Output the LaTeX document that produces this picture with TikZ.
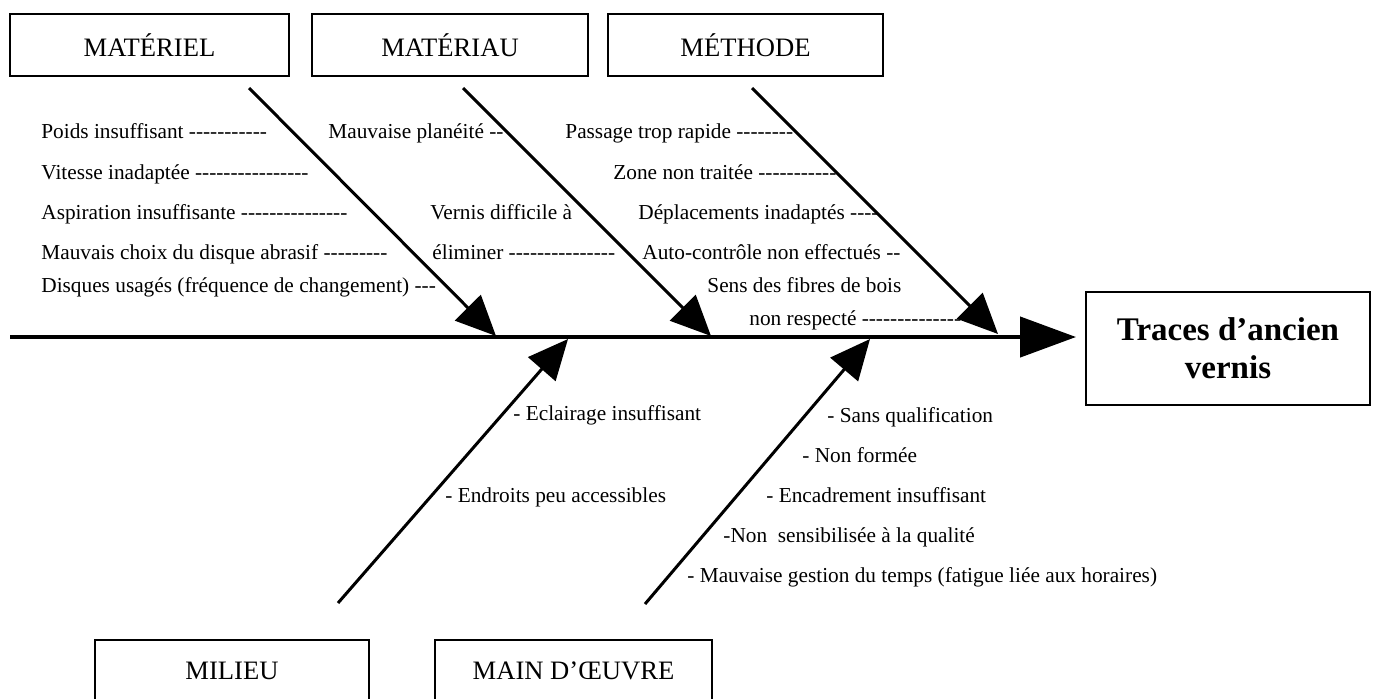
\documentclass[tikz,border=0pt]{standalone}
\usepackage{fontspec}
\setmainfont{Liberation Serif}[Ligatures=TeXOff]
\usetikzlibrary{arrows.meta}
\begin{document}
\begin{tikzpicture}[x=0.5pt,y=-0.5pt,
  catbox/.style={draw, line width=0.9pt, inner sep=0pt, minimum height=31pt,
    font=\fontsize{13.3}{16}\selectfont},
  cause/.style={anchor=base west, inner sep=0pt, font=\fontsize{10.65}{12}\selectfont},
  bone/.style={line width=1.5pt, -{Triangle[length=20pt,width=18pt]}},
  spine/.style={line width=2.2pt, -{Triangle[length=28pt,width=20pt]}}]
\clip (0,0) rectangle (1374,698);
\fill[white] (0,0) rectangle (1374,698);

% category boxes
\node[catbox, minimum width=139.5pt] (materiel) at (149.5,45) {MATÉRIEL};
\node[catbox, minimum width=138pt] (materiau) at (450,45) {MATÉRIAU};
\node[catbox, minimum width=137.5pt] (methode) at (745.5,45) {MÉTHODE};
\node[catbox, minimum width=137pt] (milieu) at (232,671) {MILIEU};
\node[catbox, minimum width=138.5pt] (mainoeuvre) at (573.5,671) {MAIN D’ŒUVRE};
\node[draw, line width=0.9pt, minimum width=142pt, minimum height=56.5pt, align=center,
  font=\bfseries\fontsize{16.5}{19}\selectfont] (effet) at (1228,348.5) {Traces d’ancien\\vernis};

% bone coordinates
\coordinate (b1s) at (249,88);  \coordinate (b1e) at (496,336);
\coordinate (b2s) at (463,88);  \coordinate (b2e) at (711,336);
\coordinate (b3s) at (752,88);  \coordinate (b3e) at (998,334);
\coordinate (b4s) at (338,603); \coordinate (b4e) at (568,339);
\coordinate (b5s) at (645,604); \coordinate (b5e) at (870,339);
\coordinate (sps) at (10,337);
\coordinate (spe) at (1076,337);

\draw[bone] (b1s) -- (b1e);
\draw[bone] (b2s) -- (b2e);
\draw[bone] (b3s) -- (b3e);
\draw[bone] (b4s) -- (b4e);
\draw[bone] (b5s) -- (b5e);
\draw[spine] (sps) -- (spe);

% MATERIEL causes
\node[cause] (l1) at (41,138) {Poids insuffisant -----------};
\node[cause] (l2) at (41,179) {Vitesse inadaptée ----------------};
\node[cause] (l3) at (41,219) {Aspiration insuffisante ---------------};
\node[cause] (l4) at (41,259) {Mauvais choix du disque abrasif ---------};
\node[cause] (l5) at (41,292) {Disques usagés (fréquence de changement) ---};

% MATERIAU causes
\node[cause] (m1) at (328,138) {Mauvaise planéité --};
\node[cause] (m2) at (430,219) {Vernis difficile à};
\node[cause] (m3) at (432,259) {éliminer ---------------};

% METHODE causes
\node[cause] (r1) at (565,138) {Passage trop rapide --------};
\node[cause] (r2) at (613,179) {Zone non traitée -----------};
\node[cause] (r3) at (638,219) {Déplacements inadaptés ----};
\node[cause] (r4) at (642,259) {Auto-contrôle non effectués --};
\node[cause] (r5) at (707,292) {Sens des fibres de bois};
\node[cause] (r6) at (749,325) {non respecté --------------};

% MILIEU causes
\node[cause] (d1) at (513,420) {- Eclairage insuffisant};
\node[cause] (d2) at (445,502) {- Endroits peu accessibles};

% MAIN D'OEUVRE causes
\node[cause] (d3) at (827,422) {- Sans qualification};
\node[cause] (d4) at (802,462) {- Non formée};
\node[cause] (d5) at (766,502) {- Encadrement insuffisant};
\node[cause] (d6) at (723,542) {-Non\ \ sensibilisée à la qualité};
\node[cause] (d7) at (687,582) {- Mauvaise gestion du temps (fatigue liée aux horaires)};
\end{tikzpicture}
\end{document}
